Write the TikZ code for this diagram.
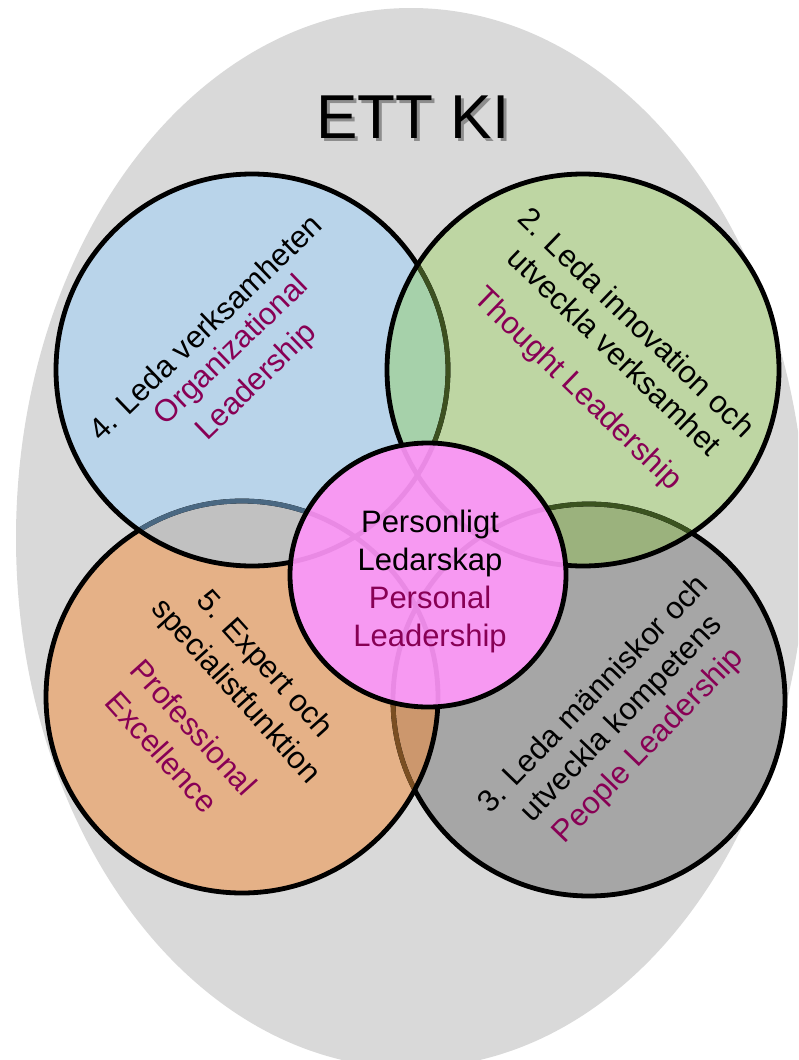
\documentclass[tikz,border=0pt]{standalone}
\usepackage{fontspec}
\setmainfont{Liberation Sans}
\definecolor{bgc}{RGB}{217,217,217}
\definecolor{blueC}{RGB}{185,212,234}
\definecolor{greenC}{RGB}{190,214,163}
\definecolor{orangeC}{RGB}{229,177,135}
\definecolor{grayC}{RGB}{166,166,166}
\definecolor{bgOv}{RGB}{166,209,170}
\definecolor{boOv}{RGB}{193,193,193}
\definecolor{ggOv}{RGB}{155,178,125}
\definecolor{ogOv}{RGB}{204,151,109}
\definecolor{pinkC}{RGB}{247,153,242}
\definecolor{pinkLine}{RGB}{233,137,228}
\definecolor{oliveL}{RGB}{60,80,32}
\definecolor{darkgreenL}{RGB}{59,83,32}
\definecolor{brownL}{RGB}{122,78,34}
\definecolor{steelL}{RGB}{74,104,130}
\definecolor{plum}{RGB}{136,0,85}
\begin{document}
\begin{tikzpicture}[x=1pt,y=-1pt,
  ring/.style={line width=4.8pt},
  lbl/.style={font=\fontsize{31}{38}\selectfont, inner sep=0pt},
  en/.style={lbl, text=plum},
  ttl/.style={font=\fontsize{62}{62}\selectfont, inner sep=0pt}]
\useasboundingbox (0,0) rectangle (798,1060);
\clip (0,0) rectangle (798,1060);
\fill[bgc] (411,538) ellipse[x radius=395pt, y radius=530pt];
\coordinate (cB) at (252,370);
\coordinate (cG) at (583,370);
\coordinate (cO) at (242,697);
\coordinate (cY) at (589,700);
\coordinate (cP) at (428,575);
% fills
\fill[grayC] (cY) circle[radius=196pt];
\fill[orangeC] (cO) circle[radius=196pt];
\fill[blueC] (cB) circle[radius=196pt];
\fill[greenC] (cG) circle[radius=196pt];
% overlaps
\begin{scope}
  \clip (cB) circle[radius=196pt];
  \fill[bgOv] (cG) circle[radius=196pt];
  \fill[boOv] (cO) circle[radius=196pt];
\end{scope}
\begin{scope}
  \clip (cY) circle[radius=196pt];
  \fill[ggOv] (cG) circle[radius=196pt];
  \fill[ogOv] (cO) circle[radius=196pt];
\end{scope}
% strokes
\draw[ring] (cY) circle[radius=196pt];
\begin{scope}
  \clip (cO) circle[radius=196pt];
  \draw[ring, brownL] (cY) circle[radius=196pt];
\end{scope}
\begin{scope}
  \clip (cG) circle[radius=196pt];
  \draw[ring, darkgreenL] (cY) circle[radius=196pt];
\end{scope}
\draw[ring] (cO) circle[radius=196pt];
\begin{scope}
  \clip (cB) circle[radius=196pt];
  \draw[ring, steelL] (cO) circle[radius=196pt];
\end{scope}
\draw[ring] (cB) circle[radius=196pt];
\begin{scope}
  \clip (cG) circle[radius=196pt];
  \draw[ring, oliveL] (cB) circle[radius=196pt];
\end{scope}
\draw[ring] (cG) circle[radius=196pt];
% centre circle
\fill[pinkC] (cP) ellipse[x radius=138pt, y radius=132pt];
\begin{scope}
  \clip (cP) ellipse[x radius=138pt, y radius=132pt];
  \draw[ring, pinkLine] (cY) circle[radius=196pt];
  \draw[ring, pinkLine] (cO) circle[radius=196pt];
  \draw[ring, pinkLine] (cB) circle[radius=196pt];
  \draw[ring, pinkLine] (cG) circle[radius=196pt];
\end{scope}
\draw[ring] (cP) ellipse[x radius=138pt, y radius=132pt];
% title with soft shadow
\node[ttl, text=black, opacity=0.35] (tsh) at (416,120) {ETT KI};
\node[ttl] (title) at (413,117) {ETT KI};
% blue
\node[lbl, rotate=44] (b1) at (205,327) {4. Leda verksamheten};
\node[en, rotate=44] (b2) at (232,351) {Organizational};
\node[en, rotate=44] (b3) at (257,382) {Leadership};
% green
\node[lbl, rotate=-44] (g1) at (637,322) {2. Leda innovation och};
\node[lbl, rotate=-44] (g2) at (615,351) {utveckla verksamhet};
\node[en, rotate=-44] (g3) at (577,390) {Thought Leadership};
% orange
\node[lbl, rotate=-48] (o1) at (264,665) {5. Expert och};
\node[lbl, rotate=-48] (o2) at (235,692) {specialistfunktion};
\node[en, rotate=-48] (o3) at (194,727) {Professional};
\node[en, rotate=-48] (o4) at (162,752) {Excellence};
% gray
\node[lbl, rotate=46] (y1) at (592,693) {3. Leda människor och};
\node[lbl, rotate=46] (y2) at (622,719) {utveckla kompetens};
\node[en, rotate=46] (y3) at (649,746) {People Leadership};
% pink
\node[lbl, anchor=base] (p1) at (430,532) {Personligt};
\node[lbl, anchor=base] (p2) at (430,570) {Ledarskap};
\node[en, anchor=base] (p3) at (430,608) {Personal};
\node[en, anchor=base] (p4) at (430,646) {Leadership};
\end{tikzpicture}
\end{document}
